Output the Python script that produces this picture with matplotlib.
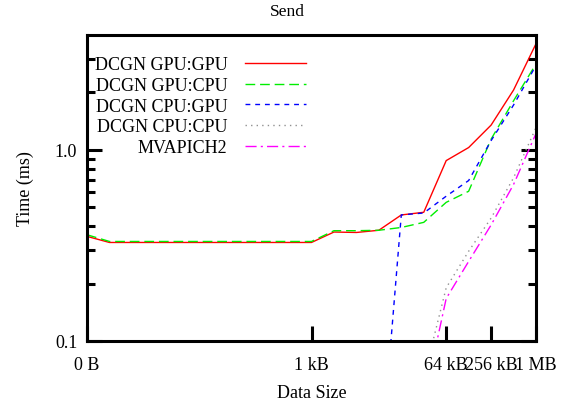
import matplotlib
matplotlib.use("Agg")
import matplotlib.pyplot as plt

# x position = log2 of message size (0 -> "0 B", 20 -> 1 MB)
sizes = list(range(21))
tick_pos = [0, 10, 16, 18, 20]
tick_labels = ["0 B", "1 kB", "64 kB", "256 kB", "1 MB"]

gpu_gpu = [0.353, 0.328, 0.328, 0.328, 0.328, 0.328, 0.328, 0.328, 0.328, 0.328, 0.328,
           0.372, 0.370, 0.380, 0.457, 0.472, 0.88, 1.03, 1.35, 2.06, 3.6]
gpu_cpu = [0.360, 0.332, 0.332, 0.332, 0.332, 0.332, 0.332, 0.332, 0.332, 0.332, 0.332,
           0.378, 0.378, 0.380, 0.393, 0.418, 0.532, 0.608, 1.14, 1.81, 2.82]
cpu_gpu = [0.017, 0.017, 0.017, 0.017, 0.017, 0.017, 0.017, 0.017, 0.017, 0.017, 0.017,
           0.017, 0.017, 0.017, 0.457, 0.468, 0.573, 0.692, 1.12, 1.72, 2.77]
cpu_cpu = [0.064, 0.064, 0.064, 0.064, 0.064, 0.064, 0.064, 0.064, 0.064, 0.064, 0.064,
           0.064, 0.064, 0.064, 0.064, 0.064, 0.19, 0.295, 0.44, 0.715, 1.31]
mvapich = [0.048, 0.048, 0.048, 0.048, 0.048, 0.048, 0.048, 0.048, 0.048, 0.048, 0.048,
           0.048, 0.048, 0.048, 0.048, 0.048, 0.167, 0.261, 0.405, 0.66, 1.22]

plt.rcParams['font.family'] = ['Liberation Serif', 'DejaVu Serif']
plt.rcParams['font.size'] = 13

fig = plt.figure(figsize=(5.68, 4.02), dpi=100)
ax = fig.add_axes([87 / 568, 1 - 342 / 402, 449 / 568, 306 / 402])

lw = 1.0
ax.plot(sizes, gpu_gpu, color='#ff0000', lw=lw, label='DCGN GPU:GPU')
ax.plot(sizes, gpu_cpu, color='#00ee00', lw=lw, dashes=(7, 3.5), label='DCGN GPU:CPU')
ax.plot(sizes, cpu_gpu, color='#0000ff', lw=lw, dashes=(3.5, 3.5), label='DCGN CPU:GPU')
ax.plot(sizes, cpu_cpu, color='#909090', lw=lw, dashes=(1, 3), label='DCGN CPU:CPU')
ax.plot(sizes, mvapich, color='#ff00ff', lw=lw, dashes=(8, 3, 1.5, 3), label='MVAPICH2')

ax.set_yscale('log')
ax.set_xlim(0, 20)
ax.set_ylim(0.1, 4)
ax.set_xticks(tick_pos)
ax.set_xticklabels(tick_labels)
ax.set_yticks([0.1, 1.0])
ax.set_yticklabels(["0.1", "1.0"])
ax.set_yticks([0.2, 0.3, 0.4, 0.5, 0.6, 0.7, 0.8, 0.9, 2, 3], minor=True)
ax.tick_params(axis='y', which='minor', labelleft=False)

for s in ax.spines.values():
    s.set_linewidth(2.2)
ax.tick_params(axis='x', which='both', direction='in', top=False, length=11, width=2.2, pad=11)
ax.tick_params(axis='x', which='minor', bottom=False)
ax.tick_params(axis='y', which='major', direction='in', left=True, right=True, length=11, width=2.2, pad=7)
ax.tick_params(axis='y', which='minor', direction='in', left=True, right=True, length=6, width=2.2)

ax.set_xlabel('Data Size', labelpad=8)
ax.set_ylabel('Time (ms)', labelpad=15)
fig.text(287 / 568, 1 - 12 / 402, 'Send', ha='center', va='center', fontsize=12.5)

ax.legend(loc='upper right', bbox_to_anchor=((306 - 87) / 449, (342 - 57.5) / 306),
          frameon=False, markerfirst=False, handlelength=3.4, handletextpad=0.95,
          labelspacing=0.2, borderpad=0, borderaxespad=0)

fig.savefig('out.png', dpi=100)
